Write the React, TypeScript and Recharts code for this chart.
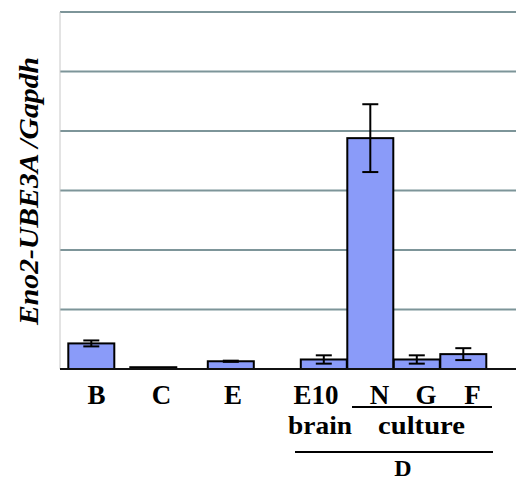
import React from 'react';
import { BarChart, Bar, XAxis, YAxis, CartesianGrid, ErrorBar } from 'recharts';

const labels = ['B', 'C', 'E', 'E10', 'N', 'G', 'F'];
const means = [0.43, 0.03, 0.13, 0.16, 3.88, 0.16, 0.25];
const errors = [0.05, 0, 0.01, 0.07, 0.57, 0.07, 0.1];
const yTicks = [0, 1, 2, 3, 4, 5, 6];

// empty slots in front of each bar, so the D group sits tight and B/C/E spread out
const blanksBefore = [0, 3, 4, 5, 2, 2, 2];
const labelShift: Record<string, number> = { B: 5, C: 8, E: 2, E10: -8, N: 9, G: 9, F: 9 };

const rows: { name: string; value: number | null; err?: number }[] = [];
labels.forEach((label, i) => {
  for (let k = 0; k < blanksBefore[i]; k++) rows.push({ name: `gap${rows.length}`, value: null });
  rows.push({ name: label, value: means[i], err: errors[i] });
});

const serif = '"Liberation Serif", "Times New Roman", serif';
const BAR_W = 46;

const WideBar = (props: any) => {
  const { x, y, width, height, payload } = props;
  if (payload == null || payload.value == null) return null;
  const cx = x + width / 2;
  return (
    <rect x={cx - BAR_W / 2} y={y} width={BAR_W} height={height}
      fill="#8a9bf9" stroke="#000" strokeWidth={2} />
  );
};

const Tick = (props: any) => {
  const { x, y, payload } = props;
  if (!labels.includes(payload.value)) return <g />;
  return (
    <text x={x + (labelShift[payload.value] || 0)} y={y} dy={27} textAnchor="middle"
      fontFamily={serif} fontWeight="bold" fontSize={27} fill="#000">
      {payload.value}
    </text>
  );
};

const NoTick = () => <g />;

export default function App() {
  return (
    <div style={{ position: 'absolute', left: 0, top: 0, width: 516, height: 483, background: '#fff', overflow: 'hidden' }}>
      <BarChart width={516} height={483} data={rows}
        margin={{ top: 12, right: 0, left: 59, bottom: 84 }}>
        <CartesianGrid vertical={false} stroke="#7d9599" strokeWidth={2} />
        <YAxis width={1} domain={[0, 6]} ticks={yTicks} tick={<NoTick />} tickLine={false}
          axisLine={{ stroke: '#c8c8c8' }} />
        <XAxis dataKey="name" interval={0} tickLine={false} tick={<Tick />} height={30}
          padding={{ left: 23.75, right: 44.75 }} axisLine={{ stroke: '#111', strokeWidth: 2 }} />
        <Bar dataKey="value" shape={<WideBar />} isAnimationActive={false}>
          <ErrorBar dataKey="err" width={8} stroke="#000" strokeWidth={2} />
        </Bar>
      </BarChart>
      <svg width={516} height={483} style={{ position: 'absolute', left: 0, top: 0, pointerEvents: 'none' }}>
        <text transform="rotate(-90 38 191)" x={38} y={191} textAnchor="middle" textLength={268}
          lengthAdjust="spacingAndGlyphs"
          fontFamily={serif} fontWeight="bold" fontStyle="italic" fontSize={27} fill="#000">
          Eno2-UBE3A /Gapdh
        </text>
        <text x={320} y={434} textAnchor="middle" textLength={64} lengthAdjust="spacingAndGlyphs"
          fontFamily={serif} fontWeight="bold" fontSize={26}>brain</text>
        <text x={421.5} y={434} textAnchor="middle" textLength={87} lengthAdjust="spacingAndGlyphs"
          fontFamily={serif} fontWeight="bold" fontSize={26}>culture</text>
        <line x1={352} x2={492} y1={407} y2={407} stroke="#000" strokeWidth={2} />
        <line x1={295} x2={493} y1={452} y2={452} stroke="#000" strokeWidth={2} />
        <text x={403} y={476} textAnchor="middle" fontFamily={serif} fontWeight="bold" fontSize={24}>D</text>
      </svg>
    </div>
  );
}
